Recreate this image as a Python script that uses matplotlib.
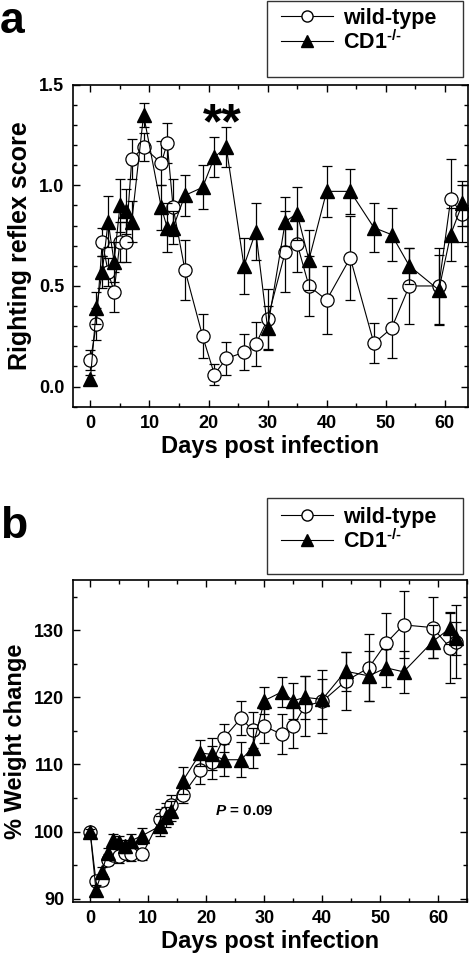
import matplotlib.pyplot as plt
from matplotlib.lines import Line2D
from matplotlib.patches import Rectangle
from matplotlib.ticker import MultipleLocator

plt.rcParams['font.family'] = ['Liberation Sans', 'DejaVu Sans']
plt.rcParams['font.weight'] = 'bold'
plt.rcParams['mathtext.fontset'] = 'custom'
plt.rcParams['mathtext.rm'] = 'Liberation Sans:bold'
plt.rcParams['mathtext.bf'] = 'Liberation Sans:bold'
plt.rcParams['mathtext.it'] = 'Liberation Sans:italic:bold'
plt.rcParams['mathtext.default'] = 'bf'

# panel a: righting reflex
days_a = [0, 1, 2, 3, 4, 5, 6, 7, 9, 12, 13, 14, 16, 19, 21, 23, 26, 28, 30,
          33, 35, 37, 40, 44, 48, 51, 54, 59, 61, 63]
wt_a = [0.13, 0.31, 0.72, 0.57, 0.47, 0.72, 0.72, 1.13, 1.19, 1.11, 1.21, 0.89,
        0.58, 0.25, 0.06, 0.14, 0.17, 0.21, 0.335, 0.67, 0.71, 0.50, 0.43, 0.64,
        0.215, 0.29, 0.50, 0.50, 0.93, 0.86]
wt_a_err = [0.05, 0.08, 0.07, 0.07, 0.1, 0.1, 0.1, 0.1, 0.07, 0.11, 0.1, 0.14,
            0.15, 0.11, 0.05, 0.08, 0.09, 0.11, 0.15, 0.2, 0.14, 0.15, 0.17, 0.21,
            0.1, 0.15, 0.19, 0.19, 0.2, 0.14]
cd1_a = [0.04, 0.39, 0.57, 0.82, 0.62, 0.90, 0.87, 0.82, 1.35, 0.89, 0.79, 0.79,
         0.95, 0.99, 1.14, 1.19, 0.60, 0.77, 0.29, 0.82, 0.86, 0.63, 0.97, 0.97,
         0.79, 0.755, 0.60, 0.48, 0.755, 0.91]
cd1_a_err = [0.02, 0.08, 0.08, 0.125, 0.1, 0.13, 0.11, 0.1, 0.06, 0.11, 0.12, 0.08,
             0.1, 0.11, 0.1, 0.1, 0.14, 0.14, 0.11, 0.12, 0.13, 0.15, 0.125, 0.11,
             0.12, 0.13, 0.09, 0.175, 0.13, 0.11]

# panel b: weight change
days_b = [0, 1, 2, 3, 4, 5, 6, 7, 9, 12, 13, 14, 16, 19, 21, 23, 26, 28, 30,
          33, 35, 37, 40, 44, 48, 51, 54, 59, 62, 63]
wt_b = [100, 92.6, 92.8, 95.8, 96.5, 96.3, 96.8, 96.6, 96.6, 101.8, 102.7, 104.0,
        105.5, 109.1, 110.3, 113.9, 116.9, 115.1, 115.7, 114.5, 115.7, 118.7, 119.4,
        122.4, 124.4, 128.1, 130.8, 130.4, 127.4, 128.3]
wt_b_err = [0.5, 0.7, 0.8, 0.8, 0.8, 1, 1, 1, 0.8, 1.5, 1.5, 1.5, 1.3, 2, 2.5, 2.1,
            2.5, 2.7, 2.5, 3, 3.2, 4.5, 4.7, 4.3, 5, 4.5, 5, 4.6, 5.2, 5.4]
cd1_b = [100, 91.3, 93.9, 96.8, 98.8, 98.5, 97.8, 98.6, 99.4, 100.8, 102.2, 103.0,
         107.6, 111.7, 111.5, 110.7, 110.7, 112.5, 119.5, 120.8, 119.5, 120.0, 119.7,
         123.9, 123.2, 124.4, 123.8, 128.3, 130.3, 128.8]
cd1_b_err = [0.4, 0.8, 0.8, 0.8, 0.8, 0.8, 1, 1, 1.2, 1.5, 1.5, 1.5, 2, 2, 2.4, 2.4,
             2.6, 3, 2, 2.3, 2.7, 3.2, 3, 2.9, 3.7, 2.8, 3.1, 2.5, 2.4, 2.5]

labels = ['wild-type', r'CD1$^{\text{-/-}}$']

fig = plt.figure(figsize=(4.71, 9.57), dpi=100)
ax1 = fig.add_axes([0.1544, 0.5750, 0.8400, 0.3365])
ax2 = fig.add_axes([0.1544, 0.0575, 0.8380, 0.3365])


def draw(ax, days, wt, wt_err, cd1, cd1_err):
    ax.errorbar(days, wt, yerr=wt_err, fmt='-o', color='black', lw=0.8,
                ms=9.5, mfc='white', mec='black', mew=0.9,
                elinewidth=0.9, capsize=3.5, capthick=0.9, zorder=2)
    ax.errorbar(days, cd1, yerr=cd1_err, fmt='-^', color='black', lw=0.8,
                ms=10.5, mfc='black', mec='black',
                elinewidth=0.9, capsize=3.5, capthick=0.9, zorder=3)
    ax.xaxis.set_major_locator(MultipleLocator(10))
    ax.xaxis.set_minor_locator(MultipleLocator(5))
    ax.tick_params(which='both', direction='in', top=True, right=True,
                   labelsize=13, width=1, pad=6)
    ax.tick_params(which='major', length=5)
    ax.tick_params(which='minor', length=3)
    for s in ax.spines.values():
        s.set_linewidth(1.2)
    ax.set_xlabel('Days post infection', fontsize=17, fontweight='bold', labelpad=2)


draw(ax1, days_a, wt_a, wt_a_err, cd1_a, cd1_a_err)
ax1.set_xlim(-3, 64)
ax1.set_ylim(-0.1, 1.5)
ax1.yaxis.set_minor_locator(MultipleLocator(0.1))
ax1.set_yticks([0, 0.5, 1.0, 1.5])
ax1.set_yticklabels(['0.0', '0.5', '1.0', '1.5'])
ax1.set_ylabel('Righting reflex score', fontsize=18, fontweight='bold', labelpad=5)
ax1.text(22.3, 1.30, '**', fontsize=36, fontweight='bold', ha='center', va='center')

draw(ax2, days_b, wt_b, wt_b_err, cd1_b, cd1_b_err)
ax2.set_xlim(-3, 65)
ax2.set_ylim(89.5, 137.5)
ax2.yaxis.set_major_locator(MultipleLocator(10))
ax2.yaxis.set_minor_locator(MultipleLocator(5))
ax2.set_ylabel('% Weight change', fontsize=17, fontweight='bold', labelpad=5)
ax2.text(21.5, 103.0, r'$\mathit{P}$ = 0.09', fontsize=11, fontweight='bold',
         ha='left', va='center')

# panel letters
fig.text(0.0, 1 - 33 / 957, 'a', fontsize=32, fontweight='bold', ha='left', va='baseline')
fig.text(0.0, 1 - 538 / 957, 'b', fontsize=32, fontweight='bold', ha='left', va='baseline')

# legends with tall frames
handles = [Line2D([], [], color='black', lw=0.8, marker='o', ms=8, mfc='white', mec='black'),
           Line2D([], [], color='black', lw=0.8, marker='^', ms=9, mfc='black', mec='black')]
for box_top, first_row in [(1, 20), (498, 519)]:
    fig.patches.append(Rectangle((267 / 471, 1 - (box_top + 76) / 957), 196 / 471, 76 / 957,
                                 transform=fig.transFigure, fill=False, lw=1.0,
                                 edgecolor='#333333'))
    fig.legend(handles, labels, loc='upper left',
               bbox_to_anchor=(281 / 471, 1 - (first_row - 12) / 957),
               frameon=False, prop={'weight': 'bold', 'size': 15.5},
               handlelength=2.4, handletextpad=0.5, labelspacing=0.05,
               borderpad=0, borderaxespad=0)

plt.savefig('out.png', dpi=100)
